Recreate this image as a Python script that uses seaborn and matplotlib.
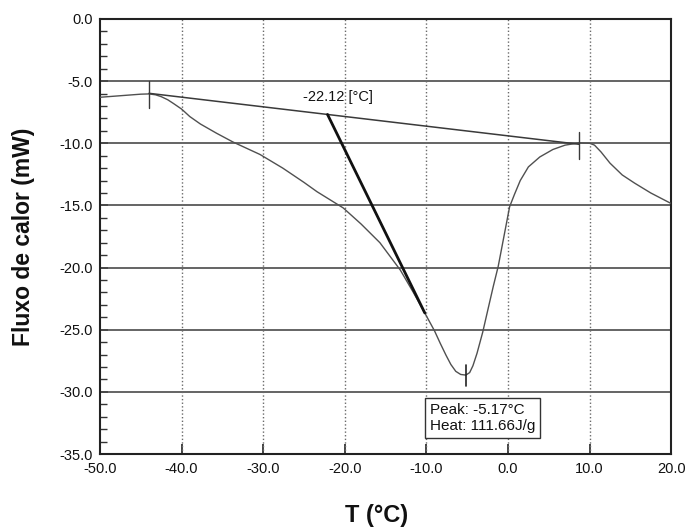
import numpy as np
import pandas as pd
import matplotlib
matplotlib.use("Agg")
import matplotlib.pyplot as plt
from matplotlib.ticker import MultipleLocator, FormatStrFormatter
import seaborn as sns

# DSC heating curve: temperature (°C) vs heat flow (mW)
temperature = [-50.0, -47.0, -45.0, -44.0, -43.2, -42.5, -41.7, -41.0, -40.0, -39.0,
               -37.7, -35.7, -33.7, -30.4, -27.6, -25.0, -23.4, -20.2, -18.0, -15.7,
               -13.2, -11.6, -10.2, -9.0, -8.3, -7.6, -7.0, -6.4, -5.8, -5.17,
               -4.7, -4.3, -3.8, -3.1, -2.4, -1.8, -1.2, -0.5, 0.2, 0.8,
               1.5, 2.5, 3.9, 5.5, 7.0, 8.7, 10.0, 10.6, 11.4, 12.5,
               14.0, 15.5, 17.5, 20.0]
heat_flow = [-6.30, -6.15, -6.05, -6.03, -6.10, -6.25, -6.50, -6.80, -7.25, -7.85,
             -8.45, -9.20, -9.90, -10.90, -12.00, -13.15, -13.90, -15.20, -16.50, -18.00,
             -20.20, -22.00, -23.65, -25.10, -26.10, -27.05, -27.80, -28.35, -28.60, -28.65,
             -28.45, -27.90, -26.90, -25.20, -23.20, -21.50, -19.90, -17.50, -15.10, -14.10,
             -13.00, -11.90, -11.10, -10.50, -10.15, -9.97, -10.00, -10.15, -10.70, -11.60,
             -12.55, -13.20, -14.00, -14.85]

# Integration baseline limits and evaluation results
baseline_T = [-44.0, 8.7]
baseline_Q = [-5.98, -10.08]
onset_T = -22.12
tangent_end = (-10.2, -23.65)
peak_T = -5.17
peak_Q = -28.65
heat_J_g = 111.66

x_ticks = [-50.0, -40.0, -30.0, -20.0, -10.0, 0.0, 10.0, 20.0]
y_ticks = [0.0, -5.0, -10.0, -15.0, -20.0, -25.0, -30.0, -35.0]

sns.set_style("white")
plt.rcParams["font.family"] = ["Liberation Sans", "DejaVu Sans"]
plt.rcParams["axes.unicode_minus"] = False

df = pd.DataFrame({"T": temperature, "Q": heat_flow})

fig = plt.figure(figsize=(6.87, 5.27), dpi=100)
ax = fig.add_axes([0.1456, 0.1385, 0.8314, 0.8255])

ax.set_xlim(-50, 20)
ax.set_ylim(-35, 0)

# grid: solid horizontal, dotted vertical
for yv in y_ticks[1:-1]:
    ax.axhline(yv, color="#4a4a4a", lw=1.2, zorder=1)
for xv in x_ticks[1:-1]:
    ax.axvline(xv, color="#6a6a6a", lw=1.0, ls=(0, (1, 1.6)), zorder=1)

sns.lineplot(data=df, x="T", y="Q", ax=ax, color="#505050", lw=1.0,
             sort=False, estimator=None, zorder=3)

# baseline between integration limits
ax.plot(baseline_T, baseline_Q, color="#3a3a3a", lw=1.1, zorder=3)
for bt, bq in zip(baseline_T, baseline_Q):
    ax.plot([bt, bt], [bq + 1.0, bq - 1.15], color="#3a3a3a", lw=1.0, zorder=4)

# onset tangent
slope = (baseline_Q[1] - baseline_Q[0]) / (baseline_T[1] - baseline_T[0])
onset_Q = baseline_Q[0] + slope * (onset_T - baseline_T[0])
ax.plot([onset_T, tangent_end[0]], [onset_Q, tangent_end[1]], color="#111111", lw=2.0, zorder=4)
ax.text(onset_T - 3.0, onset_Q + 1.4, f"{onset_T:.2f} [°C]", fontsize=10.5,
        color="#111111", ha="left", va="center", zorder=5)

# peak marker and result box
ax.plot([peak_T, peak_T], [peak_Q + 0.8, peak_Q - 0.9], color="#222222", lw=1.2, zorder=4)
ax.text(-9.6, -32.1, f"Peak: {peak_T:.2f}°C\nHeat: {heat_J_g:.2f}J/g", fontsize=11,
        color="#111111", ha="left", va="center", linespacing=1.25, zorder=6,
        bbox=dict(boxstyle="square,pad=0.3", fc="white", ec="#333333", lw=1.0))

ax.xaxis.set_major_locator(MultipleLocator(10))
ax.yaxis.set_major_locator(MultipleLocator(5))
ax.yaxis.set_minor_locator(MultipleLocator(1))
ax.xaxis.set_major_formatter(FormatStrFormatter("%.1f"))
ax.yaxis.set_major_formatter(FormatStrFormatter("%.1f"))
ax.tick_params(axis="x", which="major", direction="in", length=7, width=1.2,
               color="#222222", labelsize=10.5, labelcolor="#111111", pad=6,
               bottom=True, top=False)
ax.tick_params(axis="y", which="major", direction="in", length=6, width=1.2,
               color="#222222", labelsize=10.5, labelcolor="#111111", pad=5,
               left=True, right=False)
ax.tick_params(axis="y", which="minor", direction="in", length=5, width=1.0,
               color="#333333", left=True, right=False)
ax.tick_params(axis="x", which="minor", bottom=False, top=False)

for sp in ax.spines.values():
    sp.set_color("#222222")
    sp.set_linewidth(1.5)
    sp.set_visible(True)

ax.set_xlabel("T (°C)", fontsize=17, fontweight="bold", color="#111111", labelpad=12)
ax.set_ylabel("Fluxo de calor (mW)", fontsize=16.5, fontweight="bold", color="#111111", labelpad=10)
ax.yaxis.set_label_coords(-0.113, 0.5)
ax.xaxis.set_label_coords(0.485, -0.115)

fig.savefig("out.png", dpi=100, facecolor="white")
